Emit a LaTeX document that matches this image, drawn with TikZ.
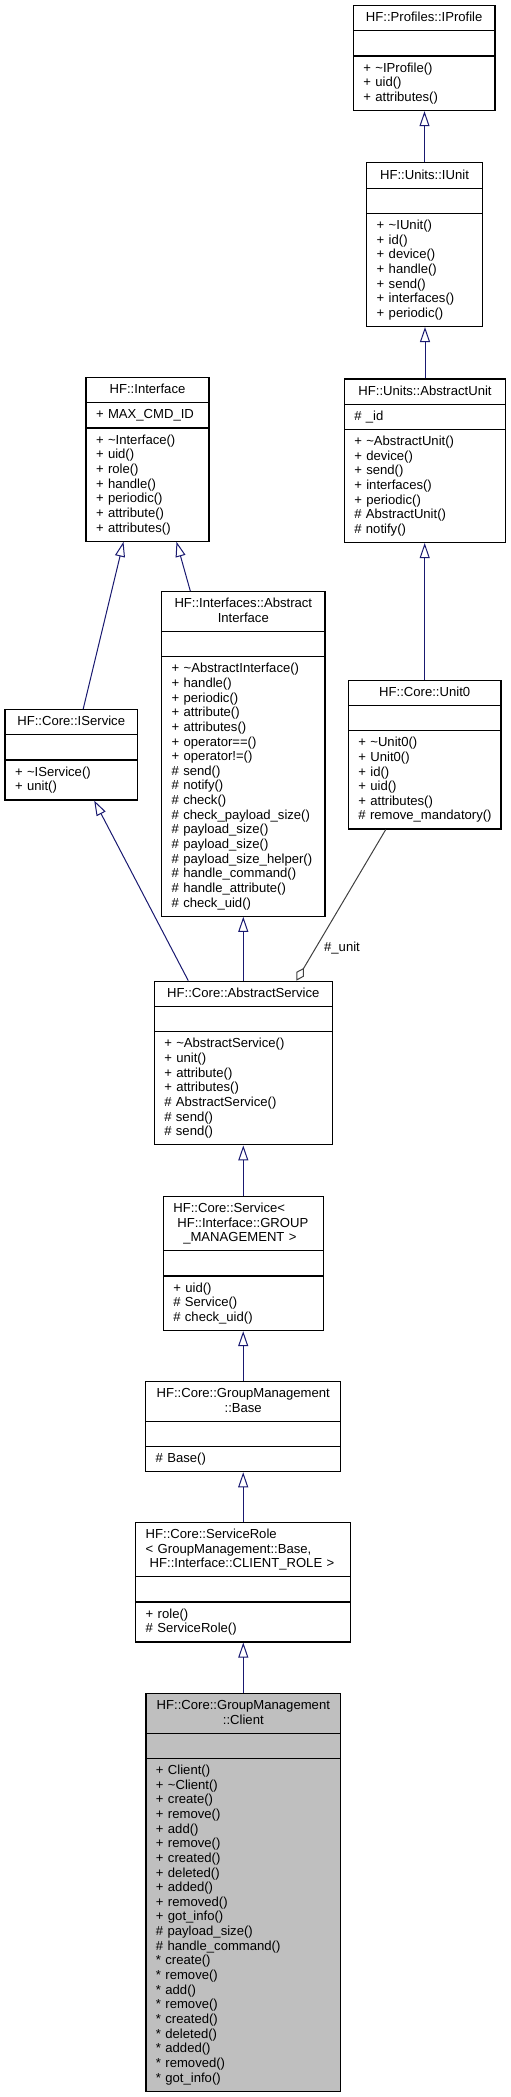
\documentclass[tikz,border=0pt]{standalone}
\usepackage{fontspec}
\setmainfont{Liberation Sans}
\usepackage{tikz}
\usetikzlibrary{arrows.meta, calc, matrix}

\definecolor{edgeblue}{HTML}{191970}
\definecolor{aggrgray}{HTML}{404040}
\definecolor{clientgray}{HTML}{BFBFBF}
\newcommand{\ls}{\rule[-1.9pt]{0pt}{7.32pt}}
\setlength{\parindent}{0pt}
\setlength{\parskip}{0pt}

\begin{document}
\begin{tikzpicture} [x=0.5pt, y=-0.5pt,
	nodes in empty cells,
	font=\fontsize{6.55}{7.32}\selectfont,
	classbox/.style={matrix of nodes, anchor=north, inner sep=0pt, outer sep=0pt, line width=0.6pt,
		row sep=-0.6pt,
		nodes={draw, fill=white, inner xsep=5pt, inner ysep=2.65pt, align=left,
			execute at begin node=\ls\ignorespaces, execute at end node=\unskip\ls},
		row 1/.style={nodes={align=center}}},
	inheritance/.style={draw=edgeblue, line width=0.5pt, -{Triangle[open, length=7.5pt, width=5pt]}},
	aggregation/.style={draw=aggrgray, line width=0.5pt, -{Diamond[open, length=7.5pt, width=4.5pt]}}]
	\useasboundingbox (0,0) rectangle (510,2097);
	
	% right column: profile and units
	\matrix (iprofile) [classbox, nodes={text width=60.85pt}] at (424.2,5)
	{
		HF::Profiles::IProfile\\
		\\
		{+~\textasciitilde IProfile()\\+~uid()\\+~attributes()}\\
	};
	\matrix (iunit) [classbox, nodes={text width=47.8pt}] at (424.5,162.3)
	{
		HF::Units::IUnit\\
		\\
		{+~\textasciitilde IUnit()\\+~id()\\+~device()\\+~handle()\\+~send()\\+~interfaces()\\+~periodic()}\\
	};
	\matrix (aunit) [classbox, nodes={text width=70.7pt}] at (425,378.3)
	{
		HF::Units::AbstractUnit\\
		\#~\_id\\
		{+~\textasciitilde AbstractUnit()\\+~device()\\+~send()\\+~interfaces()\\+~periodic()\\
			\#~AbstractUnit()\\\#~notify()}\\
	};
	\matrix (unit0) [classbox, nodes={text width=66.35pt}] at (424.7,679.5)
	{
		HF::Core::Unit0\\
		\\
		{+~\textasciitilde Unit0()\\+~Unit0()\\+~id()\\+~uid()\\+~attributes()\\\#~remove\_mandatory()}\\
	};
	
	% left column: interfaces and services
	\matrix (iface) [classbox, nodes={text width=51.5pt}] at (147.5,377)
	{
		HF::Interface\\
		+~MAX\_CMD\_ID\\
		{+~\textasciitilde Interface()\\+~uid()\\+~role()\\+~handle()\\+~periodic()\\+~attribute()\\+~attributes()}\\
	};
	\matrix (ainterface) [classbox, nodes={text width=71.65pt}] at (243.3,591)
	{
		{HF::Interfaces::Abstract\\Interface}\\
		\\
		{+~\textasciitilde AbstractInterface()\\+~handle()\\+~periodic()\\+~attribute()\\+~attributes()\\
			+~operator==()\\+~operator!=()\\\#~send()\\\#~notify()\\\#~check()\\\#~check\_payload\_size()\\
			\#~payload\_size()\\\#~payload\_size()\\\#~payload\_size\_helper()\\\#~handle\_command()\\
			\#~handle\_attribute()\\\#~check\_uid()}\\
	};
	\matrix (iservice) [classbox, nodes={text width=56.15pt}] at (71.2,709)
	{
		HF::Core::IService\\
		\\
		{+~\textasciitilde IService()\\+~unit()}\\
	};
	\matrix (aservice) [classbox, nodes={text width=79pt}] at (243.3,980.7)
	{
		HF::Core::AbstractService\\
		\\
		{+~\textasciitilde AbstractService()\\+~unit()\\+~attribute()\\+~attributes()\\
			\#~AbstractService()\\\#~send()\\\#~send()}\\
	};
	\matrix (service) [classbox, nodes={text width=70pt}, row 1/.style={nodes={align=left}}] at (243.3,1195.7)
	{
		{HF::Core::Service<\\\hspace*{2pt}HF::Interface::GROUP\\\hspace*{5pt}\_MANAGEMENT~>}\\
		\\
		{+~uid()\\\#~Service()\\\#~check\_uid()}\\
	};
	\matrix (base) [classbox, nodes={text width=87.5pt}] at (243.2,1380.7)
	{
		{HF::Core::GroupManagement\\::Base}\\
		\\
		\#~Base()\\
	};
	\matrix (srole) [classbox, nodes={text width=97.5pt}, row 1/.style={nodes={align=left}}] at (243.2,1521.7)
	{
		{HF::Core::ServiceRole\\<~GroupManagement::Base,\\\hspace*{2pt}HF::Interface::CLIENT\_ROLE~>}\\
		\\
		{+~role()\\\#~ServiceRole()}\\
	};
	\matrix (client) [classbox, nodes={text width=87.35pt, fill=clientgray}] at (243.3,1692.7)
	{
		{HF::Core::GroupManagement\\::Client}\\
		\\
		{+~Client()\\+~\textasciitilde Client()\\+~create()\\+~remove()\\+~add()\\+~remove()\\+~created()\\
			+~deleted()\\+~added()\\+~removed()\\+~got\_info()\\\#~payload\_size()\\\#~handle\_command()\\
			{*}~create()\\{*}~remove()\\{*}~add()\\{*}~remove()\\{*}~created()\\{*}~deleted()\\
			{*}~added()\\{*}~removed()\\{*}~got\_info()}\\
	};
	
	% generalisations and the #_unit member
	\draw[inheritance] (iunit.north) -- (iunit.north |- iprofile.south);
	\draw[inheritance] (aunit.north) -- (aunit.north |- iunit.south);
	\draw[inheritance] (unit0.north) -- (unit0.north |- aunit.south);
	\draw[inheritance] ($(iservice.north)+(12,0)$) -- ($(iface.south)+(-24,0)$);
	\draw[inheritance] ($(ainterface.north)+(-53,0)$) -- ($(iface.south)+(29,0)$);
	\draw[inheritance] ($(aservice.north)+(-55,0)$) -- ($(iservice.south)+(23,0)$);
	\draw[inheritance] (aservice.north) -- (aservice.north |- ainterface.south);
	\draw[aggregation] ($(unit0.south)+(-39,0)$) -- ($(aservice.north)+(53,0)$);
	\node (unitlabel) at (342,948) {\#\_unit};
	\draw[inheritance] (service.north) -- (service.north |- aservice.south);
	\draw[inheritance] (base.north) -- (base.north |- service.south);
	\draw[inheritance] (srole.north) -- (srole.north |- base.south);
	\draw[inheritance] (client.north) -- (client.north |- srole.south);
	
\end{tikzpicture}
\end{document}
